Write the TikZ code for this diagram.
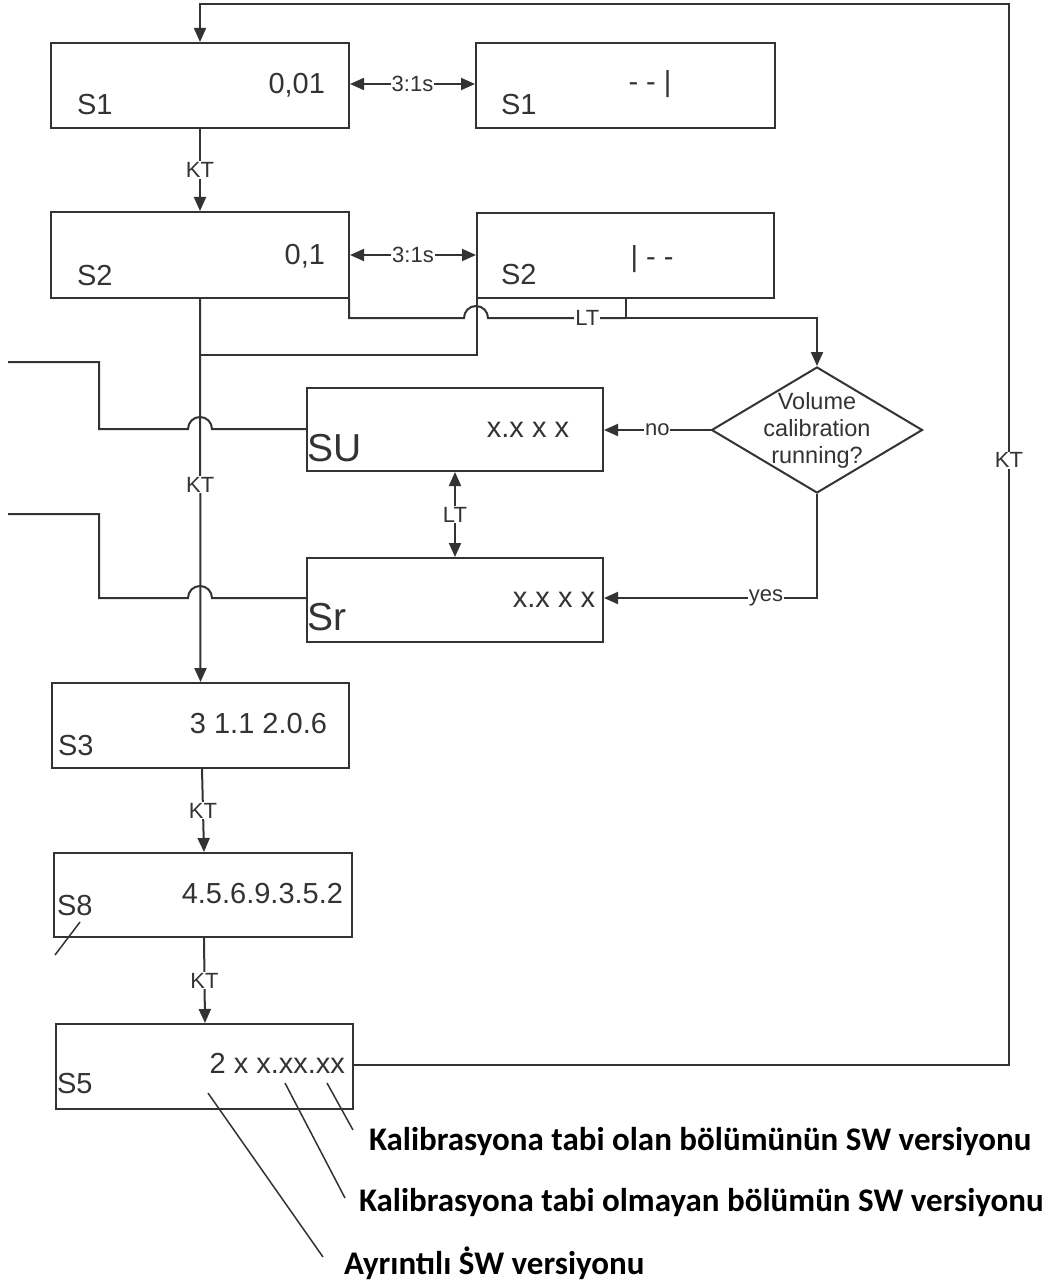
\documentclass[tikz,border=0pt]{standalone}
\usepackage{fontspec}
\setmainfont{Liberation Sans}
\newfontfamily\calfont{Carlito}
\usetikzlibrary{arrows.meta,shapes.geometric}
\definecolor{ink}{HTML}{333333}
\newcommand{\dotS}{\makebox[0pt][l]{\hspace{0.11em}\raisebox{0.7em}{.}}S}
\begin{document}
\begin{tikzpicture}[x=1pt,y=-1pt,
  line width=2pt, draw=ink, color=ink,
  box/.style={draw=ink, line width=2pt, rectangle, inner sep=0pt, minimum width=298pt, minimum height=85pt},
  main/.style={inner sep=0pt, font=\fontsize{29}{33}\selectfont},
  big/.style={inner sep=0pt, font=\fontsize{39}{42}\selectfont},
  lab/.style={fill=white, inner sep=1pt, font=\fontsize{22}{24}\selectfont},
  note/.style={inner sep=0pt, anchor=west, font=\calfont\bfseries\fontsize{33}{36}\selectfont, text=black},
  arr/.style={-{Triangle[length=14pt,width=12pt]}},
  darr/.style={{Triangle[length=14pt,width=12pt]}-{Triangle[length=14pt,width=12pt]}},
  thin/.style={line width=1.5pt}
]
\useasboundingbox (0,0) rectangle (1054,1284);
% boxes
\node[box] (s1) at (200,85.5) {};
\node[box, minimum width=299pt] (s1b) at (625.5,85.5) {};
\node[box, minimum height=86pt] (s2) at (200,255) {};
\node[box, minimum width=297pt] (s2b) at (625.5,255.5) {};
\node[box, minimum width=296pt, minimum height=83pt] (su) at (455,429.5) {};
\node[box, minimum width=296pt, minimum height=84pt] (sr) at (455,600) {};
\node[box, minimum width=297pt] (s3) at (200.5,725.5) {};
\node[box, minimum height=84pt] (s8) at (203,895) {};
\node[box, minimum width=297pt] (s5) at (204.5,1066.5) {};
\node[draw=ink, line width=2pt, shape=diamond, inner sep=0pt, minimum width=211pt, minimum height=126pt] (dec) at (817,430) {};
% texts in boxes
\node[main, anchor=base west] (t1) at (76,115) {S1};
\node[main, anchor=base east] (v1) at (326,94) {0,01};
\node[main, anchor=base west] (t1b) at (500,115) {S1};
\node[main] (v1b) at (650,84) {{-} {-} |};
\node[main, anchor=base west] (t2) at (76,285) {S2};
\node[main, anchor=base east] (v2) at (326,264) {0,1};
\node[main, anchor=base west] (t2b) at (500,284) {S2};
\node[main] (v2b) at (652,259) {| {-} {-}};
\node[big, anchor=base west] (tsu) at (306,461) {SU};
\node[main] (vsu) at (528,430) {x.x x x};
\node[big, anchor=base west] (tsr) at (306,630) {Sr};
\node[main] (vsr) at (554,600) {x.x x x};
\node[main, anchor=base west] (t3) at (57,755) {S3};
\node[main, anchor=base east] (v3) at (328,733) {3 1.1 2.0.6};
\node[main, anchor=base west] (t8) at (56,915) {S8};
\node[main, anchor=base east] (v8) at (344,903) {4.5.6.9.3.5.2};
\node[main, anchor=base west] (t5) at (56,1093) {S5};
\node[main, anchor=base east] (v5) at (346,1073) {2 x x.xx.xx};
\node[inner sep=0pt, align=center, font=\fontsize{23.5}{27}\selectfont] (dtext) at (817,430) {Volume\\calibration\\running?};
% coordinates
\coordinate (top1) at (200,4);
\coordinate (topr) at (1009,4);
\coordinate (botr) at (1009,1065);
\coordinate (s5r) at (353,1065);
\coordinate (s2c) at (349,318);
\coordinate (h1) at (464,318);
\coordinate (h2) at (488,318);
\coordinate (ltr) at (817,318);
\coordinate (stub) at (626,318);
\coordinate (s2bl) at (476.5,355);
\coordinate (kj) at (200,355);
\coordinate (a1) at (8,362);
\coordinate (a2) at (99,362);
\coordinate (a3) at (99,429);
\coordinate (a4) at (188,429);
\coordinate (a5) at (212,429);
\coordinate (b1) at (8,514);
\coordinate (b2) at (99,514);
\coordinate (b3) at (99,598);
\coordinate (b4) at (188,598);
\coordinate (b5) at (212,598);
\coordinate (yc) at (817,598);
% 3:1s arrows
\draw[darr] (s1.east |- 0,84) -- node[lab] (l31a) {3:1s} (s1b.west |- 0,84);
\draw[darr] (s2.east |- 0,255) -- node[lab] (l31b) {3:1s} (s2b.west |- 0,255);
% KT S1 -> S2
\draw[arr] (s1.south) -- node[lab] (kt1) {KT} (s2.north);
% KT S2 -> S3 (long)
\draw[arr] (s2.south) -- node[lab, pos=0.485] (kt2) {KT} (s3.north);
% LT line to decision
\draw (s2c |- s2.south) -- (s2c) -- (h1) arc[start angle=180, end angle=0, radius=12pt] -- node[lab, pos=0.72] (lt1) {LT} (stub);
\draw[arr] (stub) -- (ltr) -- (dec.north);
\draw (s2b.south -| stub) -- (stub);
% S2b back to KT line
\draw (s2bl |- s2b.south) -- (s2bl) -- (kj);
% left lines with hops
\draw (a1) -- (a2) -- (a3) -- (a4) arc[start angle=180, end angle=0, radius=12pt] -- (su.west |- a5);
\draw (b1) -- (b2) -- (b3) -- (b4) arc[start angle=180, end angle=0, radius=12pt] -- (sr.west |- b5);
% decision outputs
\draw[arr] (dec.west) -- node[lab] (lno) {no} (su.east |- dec.west);
\draw[arr] (dec.south) -- (yc) -- node[lab, pos=0.24] (lyes) {yes} (sr.east |- yc);
% LT between SU and Sr
\draw[darr] (su.south) -- node[lab] (lt2) {LT} (sr.north);
% KT S3->S8->S5
\draw[arr] (s3.south -| 202,0) -- node[lab] (kt3) {KT} (s8.north -| 204,0);
\draw[arr] (s8.south -| 204,0) -- node[lab] (kt4) {KT} (s5.north -| 205,0);
% return loop
\draw[arr] (s5r) -- (botr) -- node[lab, pos=0.57] (kt5) {KT} (topr) -- (top1) -- (s1.north);
% slash under S8
\coordinate (sl1) at (80,922);
\coordinate (sl2) at (55,955);
\draw[thin] (sl1) -- (sl2);
% leader lines and notes
\node[note] (n1) at (368,1142) {Kalibrasyona tabi olan bölümünün SW versiyonu};
\node[note] (n2) at (358,1203) {Kalibrasyona tabi olmayan bölümün SW versiyonu};
\node[note] (n3) at (343,1263) {Ayrıntılı \dotS W versiyonu};
\coordinate (p1) at (327,1083);
\coordinate (p2) at (285,1083);
\coordinate (p3) at (208,1093);
\draw[thin] (p1) -- (353,1130);
\draw[thin] (p2) -- (345,1198);
\draw[thin] (p3) -- (323,1257);
\end{tikzpicture}
\end{document}
